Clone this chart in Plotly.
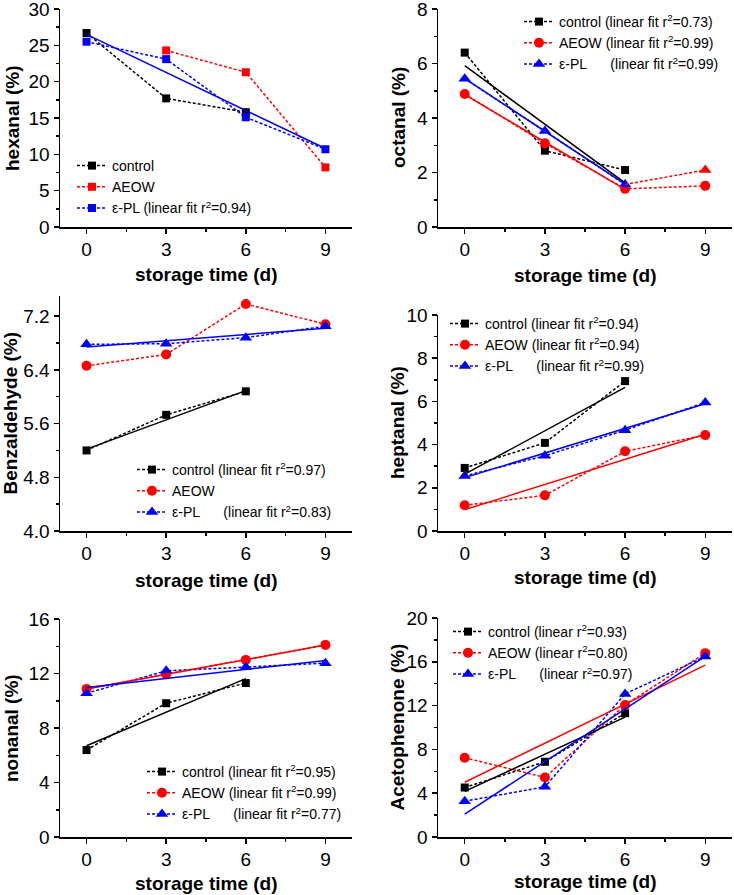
import plotly.graph_objects as go

W, H = 734, 895
days = [0, 3, 6, 9]
fit_days_short = [0, 6]
fit_days_long = [0, 9]

# ---- hexanal ----
hex_control = [26.7, 17.7, 15.8, None]
hex_aeow = [None, 24.3, 21.3, 8.2]
hex_epl = [25.5, 23.1, 15.1, 10.7]
hex_fit_epl = [26.5, 10.8]

# ---- octanal ----
oct_control = [6.40, 2.80, 2.09, None]
oct_aeow = [4.88, 3.07, 1.40, 1.51]
oct_epl = [5.44, 3.52, 1.56, 2.09]
oct_fit_control = [5.92, 1.62]
oct_fit_aeow = [4.86, 1.38]
oct_fit_epl = [5.45, 1.57]

# ---- benzaldehyde ----
bz_control = [5.20, 5.73, 6.08, None]
bz_aeow = [6.46, 6.63, 7.38, 7.08]
bz_epl = [6.78, 6.79, 6.88, 7.05]
bz_fit_control = [5.22, 6.09]
bz_fit_epl = [6.74, 7.02]

# ---- heptanal ----
hep_control = [2.92, 4.08, 6.94, None]
hep_aeow = [1.19, 1.65, 3.69, 4.44]
hep_epl = [2.55, 3.48, 4.67, 5.95]
hep_fit_control = [2.63, 6.65]
hep_fit_aeow = [0.99, 4.48]
hep_fit_epl = [2.47, 5.89]

# ---- nonanal ----
non_control = [6.38, 9.82, 11.30, None]
non_aeow = [10.87, 11.95, 13.00, 14.10]
non_epl = [10.55, 12.20, 12.47, 12.76]
non_fit_control = [6.70, 11.62]
non_fit_aeow = [10.87, 14.09]
non_fit_epl = [10.98, 12.95]

# ---- acetophenone ----
ace_control = [4.52, 6.87, 11.30, None]
ace_aeow = [7.24, 5.44, 12.06, 16.79]
ace_epl = [3.27, 4.58, 13.07, 16.49]
ace_fit_control = [4.17, 10.95]
ace_fit_aeow = [5.00, 15.70]
ace_fit_epl = [2.08, 16.50]

NB = "\u00a0"
SP = NB * 6

BLACK, RED, BLUE = "#000000", "#ff0000", "#0000ff"
FONT = "Liberation Sans, Arial, sans-serif"
DASH = "3px,2px"


def px_x(x):
    return x / W


def px_y(y):
    return 1 - y / H


panels = [
    dict(ytitle="hexanal (%)", yrange=[0, 30], dtick=5, minor=2.5,
         xdom=(60, 352), ydom=(9, 227), xt_y=274, yt_x=13,
         leg=(72, 150),
         series=[("control", hex_control, BLACK, "square", 8),
                 ("AEOW", hex_aeow, RED, "square", 8),
                 ("ε-PL (linear fit r<sup>2</sup>=0.94)", hex_epl, BLUE, "square", 8)],
         fits=[(fit_days_long, hex_fit_epl, BLUE)]),
    dict(ytitle="octanal (%)", yrange=[0, 8], dtick=2, minor=1,
         xdom=(438, 732), ydom=(9, 227), xt_y=275, yt_x=399,
         leg=(519, 6),
         series=[("control (linear fit r<sup>2</sup>=0.73)", oct_control, BLACK, "square", 8),
                 ("AEOW (linear fit r<sup>2</sup>=0.99)", oct_aeow, RED, "circle", 10),
                 ("ε-PL" + SP + "(linear fit r<sup>2</sup>=0.99)", oct_epl[:3] + [None], BLUE, "triangle-up", 11)],
         fits=[(fit_days_short, oct_fit_control, BLACK),
               (fit_days_short, oct_fit_aeow, RED),
               (fit_days_short, oct_fit_epl, BLUE)]),
    dict(ytitle="Benzaldehyde (%)", yrange=[4.0, 7.5], dtick=0.8, minor=0.4,
         xdom=(60, 352), ydom=(296, 531), xt_y=580, yt_x=10,
         leg=(132, 454), tickformat=".1f",
         series=[("control (linear fit r<sup>2</sup>=0.97)", bz_control, BLACK, "square", 8),
                 ("AEOW", bz_aeow, RED, "circle", 10),
                 ("ε-PL" + SP + "(linear fit r<sup>2</sup>=0.83)", bz_epl, BLUE, "triangle-up", 11)],
         fits=[(fit_days_short, bz_fit_control, BLACK),
               (fit_days_long, bz_fit_epl, BLUE)]),
    dict(ytitle="heptanal (%)", yrange=[0, 10], dtick=2, minor=1,
         xdom=(438, 732), ydom=(315, 531), xt_y=577, yt_x=397,
         leg=(445, 308),
         series=[("control (linear fit r<sup>2</sup>=0.94)", hep_control, BLACK, "square", 8),
                 ("AEOW (linear fit r<sup>2</sup>=0.94)", hep_aeow, RED, "circle", 10),
                 ("ε-PL" + SP + "(linear fit r<sup>2</sup>=0.99)", hep_epl, BLUE, "triangle-up", 11)],
         fits=[(fit_days_short, hep_fit_control, BLACK),
               (fit_days_long, hep_fit_aeow, RED),
               (fit_days_long, hep_fit_epl, BLUE)]),
    dict(ytitle="nonanal (%)", yrange=[0, 16], dtick=4, minor=2,
         xdom=(60, 352), ydom=(619, 837), xt_y=883, yt_x=11,
         leg=(142, 756),
         series=[("control (linear fit r<sup>2</sup>=0.95)", non_control, BLACK, "square", 8),
                 ("AEOW (linear fit r<sup>2</sup>=0.99)", non_aeow, RED, "circle", 10),
                 ("ε-PL" + SP + "(linear fit r<sup>2</sup>=0.77)", non_epl, BLUE, "triangle-up", 11)],
         fits=[(fit_days_short, non_fit_control, BLACK),
               (fit_days_long, non_fit_aeow, RED),
               (fit_days_long, non_fit_epl, BLUE)]),
    dict(ytitle="Acetophenone (%)", yrange=[0, 20], dtick=4, minor=2,
         xdom=(438, 732), ydom=(618, 837), xt_y=881, yt_x=397,
         leg=(448, 616),
         series=[("control (linear r<sup>2</sup>=0.93)", ace_control, BLACK, "square", 8),
                 ("AEOW (linear r<sup>2</sup>=0.80)", ace_aeow, RED, "circle", 10),
                 ("ε-PL" + SP + "(linear r<sup>2</sup>=0.97)", ace_epl, BLUE, "triangle-up", 11)],
         fits=[(fit_days_short, ace_fit_control, BLACK),
               (fit_days_long, ace_fit_aeow, RED),
               (fit_days_long, ace_fit_epl, BLUE)]),
]

fig = go.Figure()
layout = dict(
    width=W, height=H, margin=dict(l=0, r=0, t=0, b=0, autoexpand=False),
    paper_bgcolor="white", plot_bgcolor="white",
    font=dict(family=FONT, color="black"),
    annotations=[],
)

for i, p in enumerate(panels, start=1):
    sfx = "" if i == 1 else str(i)
    xa, ya = "x" + sfx, "y" + sfx
    lg = "legend" + sfx
    # data series
    for name, vals, col, sym, size in p["series"]:
        fig.add_trace(go.Scatter(
            x=days, y=vals, name=name, xaxis=xa, yaxis=ya, legend=lg,
            mode="lines+markers", connectgaps=False,
            line=dict(color=col, width=1.5, dash=DASH),
            marker=dict(color=col, symbol=sym, size=size, line=dict(width=0)),
        ))
    # octanal: ε-PL last segment drawn in red in the original
    if i == 2:
        fig.add_trace(go.Scatter(
            x=days[2:], y=oct_epl[2:], xaxis=xa, yaxis=ya, showlegend=False,
            mode="lines+markers",
            line=dict(color=RED, width=1.5, dash=DASH),
            marker=dict(color=["rgba(0,0,0,0)", RED], symbol="triangle-up", size=11,
                        line=dict(width=0)),
        ))
    # fit lines
    for fx, fy, col in p["fits"]:
        fig.add_trace(go.Scatter(
            x=fx, y=fy, xaxis=xa, yaxis=ya, showlegend=False, mode="lines",
            line=dict(color=col, width=1.5),
        ))
    axis_common = dict(
        showgrid=False, zeroline=False, showline=True, linecolor="black",
        linewidth=1.5, ticks="outside", ticklen=5, tickwidth=1.5,
        tickcolor="black", tickfont=dict(size=19, family=FONT, color="black"),
        automargin=False, ticklabeloverflow="allow",
    )
    layout["xaxis" + sfx] = dict(
        axis_common, domain=[px_x(p["xdom"][0]), px_x(p["xdom"][1])],
        range=[-1, 10], tickmode="array", tickvals=days,
        anchor=ya, fixedrange=True,
        minor=dict(ticks="outside", ticklen=3, tickwidth=1.5, tickcolor="black",
                   dtick=1.5, tick0=0),
    )
    layout["yaxis" + sfx] = dict(
        axis_common, domain=[px_y(p["ydom"][1]), px_y(p["ydom"][0])],
        range=p["yrange"], dtick=p["dtick"], tick0=p["yrange"][0],
        anchor=xa, fixedrange=True,
        tickformat=p.get("tickformat", ""),
        minor=dict(ticks="outside", ticklen=3, tickwidth=1.5, tickcolor="black",
                   dtick=p["minor"], tick0=p["yrange"][0]),
    )
    layout[lg] = dict(
        x=px_x(p["leg"][0]), y=px_y(p["leg"][1]), xanchor="left", yanchor="top",
        bgcolor="rgba(0,0,0,0)", borderwidth=0,
        font=dict(size=14, family=FONT, color="black"),
        tracegroupgap=0,
    )
    xc = (p["xdom"][0] + p["xdom"][1]) / 2
    yc = (p["ydom"][0] + p["ydom"][1]) / 2
    layout["annotations"].append(dict(
        text="<b>storage time (d)</b>", xref="paper", yref="paper",
        x=px_x(xc), y=px_y(p["xt_y"]), xanchor="center", yanchor="middle",
        showarrow=False, font=dict(size=19, family=FONT, color="black"),
    ))
    layout["annotations"].append(dict(
        text="<b>" + p["ytitle"] + "</b>", xref="paper", yref="paper",
        x=px_x(p["yt_x"]), y=px_y(yc), xanchor="center", yanchor="middle",
        textangle=-90, showarrow=False,
        font=dict(size=19, family=FONT, color="black"),
    ))

fig.update_layout(**layout)
fig.write_html("out.html", config={"displayModeBar": False, "staticPlot": True},
               post_script="document.body.style.margin='0';")
